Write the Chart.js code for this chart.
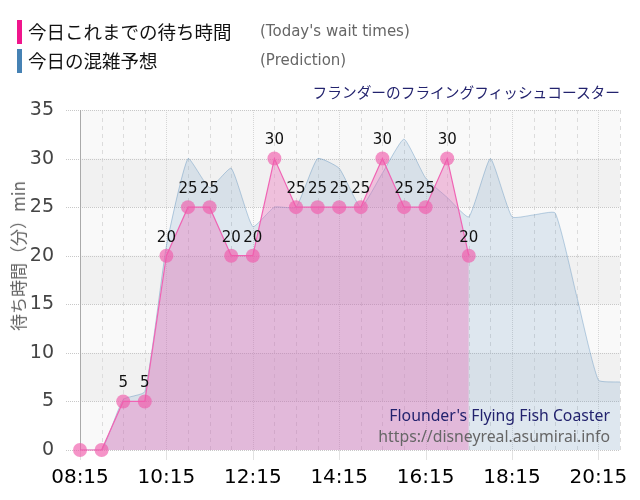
<!DOCTYPE html>
<html>
<head>
<meta charset="utf-8">
<script src="https://cdn.jsdelivr.net/npm/chart.js@4"></script>
<style>
  html, body { margin: 0; padding: 0; background: #fff; }
  #wrap { position: relative; width: 640px; height: 500px; overflow: hidden; }
  canvas { position: absolute; left: 0; top: 0; }
  .bar { position: absolute; width: 5px; }
  .jp { position: absolute; font-family: "Noto Sans CJK JP", sans-serif; color: #111; white-space: nowrap; }
  .en { position: absolute; font-family: "DejaVu Sans", sans-serif; color: #666; font-size: 15px; white-space: nowrap; }
</style>
</head>
<body>
<div id="wrap">
  <canvas id="c" width="640" height="500"></canvas>
  <div class="bar" style="left:17px; top:20px; height:24px; background:#f0158c;"></div>
  <div class="jp" style="left:28px; top:17px; font-size:18.5px; line-height:28px;">今日これまでの待ち時間</div>
  <div class="en" style="left:260px; top:21px; line-height:20px;">(Today's wait times)</div>
  <div class="bar" style="left:17px; top:49px; height:24px; background:#4682b4;"></div>
  <div class="jp" style="left:28px; top:46px; font-size:18.5px; line-height:28px;">今日の混雑予想</div>
  <div class="en" style="left:260px; top:50px; line-height:20px;">(Prediction)</div>
  <div class="jp" style="right:20px; top:82px; font-size:14.7px; line-height:20px; color:#23236e;">フランダーのフライングフィッシュコースター</div>
  <div class="jp" style="left:18px; top:256px; font-size:17px; line-height:20px; color:#666; transform: translate(-50%,-50%) rotate(-90deg);">待ち時間（分）min</div>
  <div style="position:absolute; right:30px; top:405px; font-family:'Noto Sans',sans-serif; font-size:15.8px; line-height:20px; color:#23236e; white-space:nowrap;">Flounder's Flying Fish Coaster</div>
  <div style="position:absolute; right:30px; top:426px; font-family:'Noto Sans',sans-serif; font-size:15.8px; line-height:20px; color:#666; white-space:nowrap;">https://disneyreal.asumirai.info</div>
</div>
<script>
const timeLabels = ["08:15","08:45","09:15","09:45","10:15","10:45","11:15","11:45","12:15","12:45","13:15","13:45","14:15","14:45","15:15","15:45","16:15","16:45","17:15","17:45","18:15","18:45","19:15","19:45","20:15","20:45"];
const todayWait = [0,0,5,5,20,25,25,20,20,30,25,25,25,25,30,25,25,30,20];
const prediction = [0,0,5.2,6,21,30,27,29,23,25,25,30,29,25,28.5,32,28,26,24,30,24,24.2,24.4,15.8,7.2,7];
const yTicks = [0,5,10,15,20,25,30,35];

const bgPlugin = {
  id: 'bgGrid',
  beforeDatasetsDraw(chart) {
    const {ctx, chartArea: a, scales: {x, y}} = chart;
    ctx.save();
    ctx.fillStyle = '#f9f9f9';
    ctx.fillRect(a.left, a.top, a.right - a.left, a.bottom - a.top);
    ctx.fillStyle = '#f1f1f1';
    for (let i = 0; i + 1 < yTicks.length; i++) {
      if (i % 2 === 1) {
        const y1 = y.getPixelForValue(yTicks[i + 1]);
        const y0 = y.getPixelForValue(yTicks[i]);
        ctx.fillRect(a.left, y1, a.right - a.left, y0 - y1);
      }
    }
    ctx.lineWidth = 1;
    for (let i = 0; i < timeLabels.length; i++) {
      const px = Math.round(x.getPixelForValue(i)) + 0.5;
      ctx.beginPath();
      if (i % 4 === 0) {
        ctx.strokeStyle = '#d6d6d6';
        ctx.setLineDash([1, 1]);
        ctx.moveTo(px, a.top);
        ctx.lineTo(px, a.bottom);
        ctx.stroke();
        ctx.setLineDash([]);
        ctx.strokeStyle = '#e2e2e2';
        ctx.beginPath();
        ctx.moveTo(px, a.bottom);
        ctx.lineTo(px, a.bottom + 10);
        ctx.stroke();
      } else {
        ctx.strokeStyle = '#dcdcdc';
        ctx.setLineDash([4, 4]);
        ctx.moveTo(px, a.top);
        ctx.lineTo(px, a.bottom);
        ctx.stroke();
      }
    }
    ctx.setLineDash([1, 1]);
    ctx.strokeStyle = '#c8c8c8';
    for (const v of yTicks) {
      const py = Math.round(y.getPixelForValue(v)) + 0.5;
      ctx.beginPath();
      ctx.moveTo(a.left - 14, py);
      ctx.lineTo(a.right, py);
      ctx.stroke();
    }
    ctx.setLineDash([]);
    ctx.strokeStyle = '#aaaaaa';
    ctx.beginPath();
    ctx.moveTo(a.left + 0.5, a.top);
    ctx.lineTo(a.left + 0.5, a.bottom);
    ctx.stroke();
    ctx.restore();
  }
};

const labelPlugin = {
  id: 'valueLabels',
  afterDatasetsDraw(chart) {
    const {ctx} = chart;
    const meta = chart.getDatasetMeta(0);
    ctx.save();
    ctx.font = '15px "DejaVu Sans", sans-serif';
    ctx.fillStyle = '#111';
    ctx.textAlign = 'center';
    ctx.textBaseline = 'middle';
    meta.data.forEach((pt, i) => {
      if (todayWait[i] > 0) ctx.fillText(String(todayWait[i]), pt.x, pt.y - 18);
    });
    ctx.restore();
  }
};

new Chart(document.getElementById('c'), {
  type: 'line',
  data: {
    labels: timeLabels,
    datasets: [
      {
        label: '今日これまでの待ち時間',
        data: todayWait,
        borderColor: '#f064b4',
        borderWidth: 1.2,
        backgroundColor: 'rgba(236,100,180,0.35)',
        fill: 'origin',
        tension: 0,
        pointRadius: 7,
        pointBackgroundColor: 'rgba(240,90,170,0.65)',
        pointBorderWidth: 0,
        pointBorderColor: 'rgba(0,0,0,0)',
        clip: false
      },
      {
        label: '今日の混雑予想',
        data: prediction,
        borderColor: 'rgba(70,130,180,0.35)',
        borderWidth: 1,
        backgroundColor: 'rgba(70,130,180,0.15)',
        fill: 'origin',
        tension: 0.15,
        pointRadius: 0
      }
    ]
  },
  options: {
    responsive: false,
    animation: false,
    layout: { padding: { top: 110, right: 20, left: 0, bottom: 0 } },
    plugins: { legend: { display: false }, tooltip: { enabled: false } },
    scales: {
      x: {
        type: 'category',
        grid: { display: false },
        border: { display: false },
        ticks: {
          autoSkip: false,
          maxRotation: 0,
          padding: 8,
          color: '#000',
          font: { family: 'DejaVu Sans', size: 20 },
          callback: function(v, i) { return i % 4 === 0 ? timeLabels[i] : ''; }
        },
        afterFit(s) { s.height = 50; }
      },
      y: {
        min: 0, max: 35,
        grid: { display: false },
        border: { display: false },
        ticks: {
          stepSize: 5,
          padding: 18,
          color: '#444',
          font: { family: 'DejaVu Sans', size: 19 }
        },
        afterFit(s) { s.width = 80; }
      }
    }
  },
  plugins: [bgPlugin, labelPlugin]
});
</script>
</body>
</html>
